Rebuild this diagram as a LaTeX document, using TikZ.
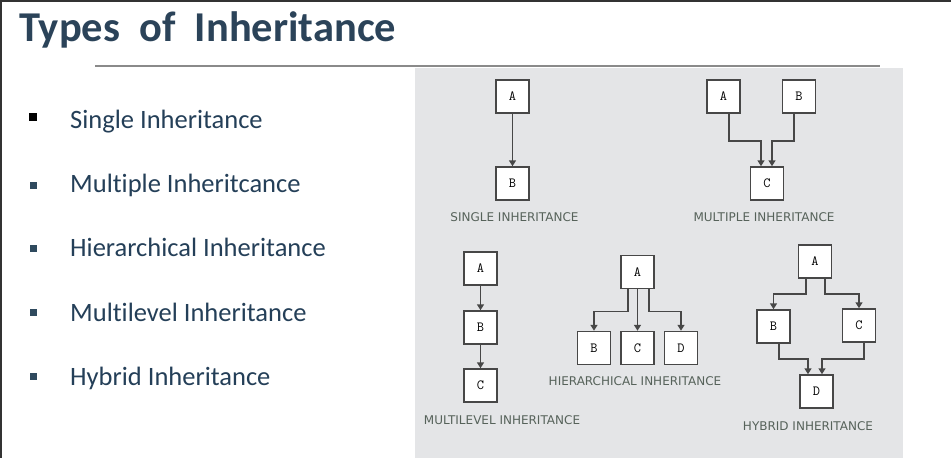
\documentclass[tikz,border=0pt]{standalone}
\usepackage{fontspec}
\setmainfont{Carlito}[Ligatures={NoCommon}]
\newfontfamily\labelfont{DejaVu Sans}
\usetikzlibrary{arrows.meta}
\definecolor{titleblue}{HTML}{2B4359}
\definecolor{itemblue}{HTML}{243F58}
\definecolor{bulletblue}{HTML}{2F4A5E}
\definecolor{panelgray}{HTML}{E4E5E7}
\definecolor{rulegray}{HTML}{8A8A8A}
\definecolor{framedark}{HTML}{333333}
\definecolor{boxline}{HTML}{474747}
\definecolor{captiongray}{HTML}{56625A}
\tikzset{
  cls/.style={draw=boxline, line width=1.5pt, fill=white, minimum width=33pt,
    minimum height=33pt, inner sep=0pt, font=\ttfamily\fontsize{14}{14}\selectfont},
  conn/.style={draw=boxline, line width=1.5pt,
    -{Triangle[width=7pt,length=6pt]}},
  caption/.style={anchor=base, text=captiongray, inner sep=0pt,
    font=\labelfont\fontsize{12}{12}\selectfont},
  item/.style={anchor=base west, text=itemblue, inner sep=0pt,
    font=\fontsize{26.5}{26.5}\selectfont},
  bullet/.style={fill=bulletblue, minimum size=7pt, inner sep=0pt}
}
\begin{document}
\begin{tikzpicture}[x=1pt, y=-1pt]
  \useasboundingbox (0,0) rectangle (951,458);
  \fill[white] (0,0) rectangle (951,458);
  % slide frame (top and left edges)
  \fill[framedark] (0,0) rectangle (951,1.5);
  \fill[framedark] (0,0) rectangle (1.5,458);

  % title and rule
  \node[anchor=base west, inner sep=0pt, text=titleblue,
        font=\bfseries\fontsize{42.5}{42.5}\selectfont] (title) at (19,41.7)
        {Types\ \ of\ \ Inheritance};
  \draw[rulegray, line width=1.2pt] (95,66) -- (880,66);

  % bullet list
  \node[bullet, fill=black, minimum size=8pt] (b1) at (33,117) {};
  \node[bullet] (b2) at (33,185.5) {};
  \node[bullet] (b3) at (33,248) {};
  \node[bullet] (b4) at (33,312) {};
  \node[bullet] (b5) at (33,376.5) {};
  \node[item] (t1) at (70,128) {Single Inheritance};
  \node[item] (t2) at (70,192.5) {Multiple Inheritcance};
  \node[item] (t3) at (70,256.5) {Hierarchical Inheritance};
  \node[item] (t4) at (70,321) {Multilevel Inheritance};
  \node[item] (t5) at (70,385.5) {Hybrid Inheritance};

  % diagram panel
  \fill[panelgray] (415,68) rectangle (903,458);

  % single inheritance
  \node[cls] (sA) at (512.5,96.5) {A};
  \node[cls] (sB) at (512.5,183.5) {B};
  \draw[conn] (sA.south) -- (sB.north);
  \node[caption] (sL) at (514.5,221.5) {SINGLE INHERITANCE};

  % multiple inheritance
  \node[cls] (mA) at (723.5,96.5) {A};
  \node[cls] (mB) at (799,96.5) {B};
  \node[cls] (mC) at (767,183.5) {C};
  \draw[conn] ([xshift=5.5pt]mA.south) -- ++(0,27) -| ([xshift=-6pt]mC.north);
  \draw[conn] ([xshift=-5pt]mB.south) -- ++(0,27) -| ([xshift=5pt]mC.north);
  \node[caption] (mL) at (764,221.5) {MULTIPLE INHERITANCE};

  % multilevel inheritance
  \node[cls] (lA) at (480.5,268.5) {A};
  \node[cls] (lB) at (480.5,327.5) {B};
  \node[cls] (lC) at (480.5,385.5) {C};
  \draw[conn] (lA.south) -- (lB.north);
  \draw[conn] (lB.south) -- (lC.north);
  \node[caption] (lL) at (502,424) {MULTILEVEL INHERITANCE};

  % hierarchical inheritance
  \node[cls] (hA) at (637.5,272) {A};
  \node[cls] (hB) at (594,348) {B};
  \node[cls] (hC) at (637.5,348) {C};
  \node[cls] (hD) at (681,348) {D};
  \draw[conn] ([xshift=-9.5pt]hA.south) -- ++(0,22) -| (hB.north);
  \draw[conn] (hA.south) -- (hC.north);
  \draw[conn] ([xshift=11.5pt]hA.south) -- ++(0,22) -| (hD.north);
  \node[caption] (hL) at (635,385) {HIERARCHICAL INHERITANCE};

  % hybrid inheritance
  \node[cls] (yA) at (815,261.5) {A};
  \node[cls] (yB) at (773.5,326.5) {B};
  \node[cls] (yC) at (859,325.5) {C};
  \node[cls] (yD) at (816.5,391.5) {D};
  \draw[conn] ([xshift=-9pt]yA.south) -- ++(0,15) -| (yB.north);
  \draw[conn] ([xshift=10pt]yA.south) -- ++(0,15) -| (yC.north);
  \draw[conn] ([xshift=5.5pt]yB.south) -- ++(0,15) -| ([xshift=-8.5pt]yD.north);
  \draw[conn] ([xshift=5pt]yC.south) -- ++(0,16) -| ([xshift=5.5pt]yD.north);
  \node[caption] (yL) at (808,430.5) {HYBRID INHERITANCE};
\end{tikzpicture}
\end{document}
